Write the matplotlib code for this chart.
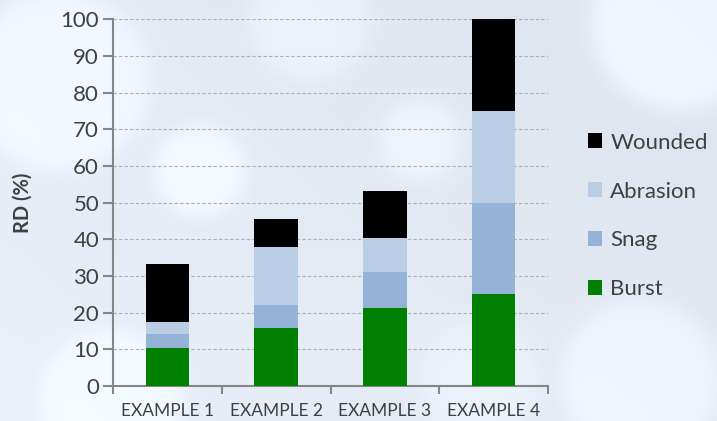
import numpy as np
import matplotlib.pyplot as plt
from matplotlib.patches import Patch

plt.rcParams['font.family'] = ['Lato', 'DejaVu Sans']

categories = ['EXAMPLE 1', 'EXAMPLE 2', 'EXAMPLE 3', 'EXAMPLE 4']
burst = [10.4, 15.8, 21.3, 25.0]
snag = [3.8, 6.3, 9.8, 25.0]
abrasion = [3.2, 15.7, 9.4, 25.0]
wounded = [16.0, 7.9, 12.7, 25.0]

series = [('Burst', burst, '#008000'),
          ('Snag', snag, '#95b3d7'),
          ('Abrasion', abrasion, '#b9cde5'),
          ('Wounded', wounded, '#000000')]

W, H = 717, 421
fig = plt.figure(figsize=(W / 100, H / 100), dpi=100)

# soft bluish backdrop with a few blurred light spots
yy, xx = np.mgrid[0:H, 0:W]
base = np.array([0.895, 0.922, 0.957])
bg = np.ones((H, W, 3)) * base
shade = 0.03 * (xx / W) - 0.02 * (yy / H)
bg -= shade[..., None]
spots = [(200, 170, 45, 0.06), (60, 80, 90, 0.05), (420, 140, 40, 0.05),
         (680, 20, 90, 0.07), (640, 380, 80, 0.05), (110, 400, 70, 0.05),
         (310, 20, 60, 0.04), (480, 380, 60, 0.03)]
for cx, cy, r, a in spots:
    d = np.sqrt((xx - cx) ** 2 + (yy - cy) ** 2)
    m = 1 / (1 + np.exp((d - r) / 6))
    bg += a * m[..., None]
bg = np.clip(bg, 0, 1)
bax = fig.add_axes([0, 0, 1, 1], zorder=-1)
bax.imshow(bg, aspect='auto', extent=[0, 1, 0, 1])
bax.axis('off')

ax = fig.add_axes([113 / W, 1 - 386 / H, (548 - 113) / W, (386 - 19.5) / H])
ax.set_facecolor('none')

x = np.arange(len(categories))
bottom = np.zeros(len(categories))
for name, vals, col in series:
    ax.bar(x, vals, 0.4, bottom=bottom, color=col, label=name, zorder=3)
    bottom += np.array(vals)

ax.set_xlim(-0.5, len(categories) - 0.5)
ax.set_ylim(0, 100)
ax.set_yticks(range(0, 101, 10))
ax.yaxis.grid(True, color='#b0b0b0', linestyle=(0, (3, 2)), linewidth=0.8)
ax.set_axisbelow(True)

ax.set_xticks(x)
ax.set_xticklabels(categories, fontsize=12.5, color='#404040')
ax.set_xticks(np.arange(-0.5, len(categories)), minor=True)
ax.tick_params(axis='x', which='major', length=0, pad=12)
ax.tick_params(axis='x', which='minor', length=6, color='#868686', width=1.5)
ax.tick_params(axis='y', length=7, color='#868686', width=1.5,
               labelsize=16, labelcolor='#404040', pad=3)

for s in ['top', 'right']:
    ax.spines[s].set_visible(False)
for s in ['left', 'bottom']:
    ax.spines[s].set_color('#868686')
    ax.spines[s].set_linewidth(1.5)

ax.set_ylabel('RD (%)', fontsize=14.5, fontweight='bold', color='#404040', labelpad=20)

handles = [Patch(facecolor=c, label=n) for n, _, c in series[::-1]]
fig.legend(handles=handles, loc='center left', bbox_to_anchor=(568 / W, 1 - 216 / H),
           frameon=False, fontsize=16, labelcolor='#404040',
           handlelength=0.65, handleheight=0.65, handletextpad=0.35,
           labelspacing=1.3)

fig.savefig('out.png', dpi=100)
